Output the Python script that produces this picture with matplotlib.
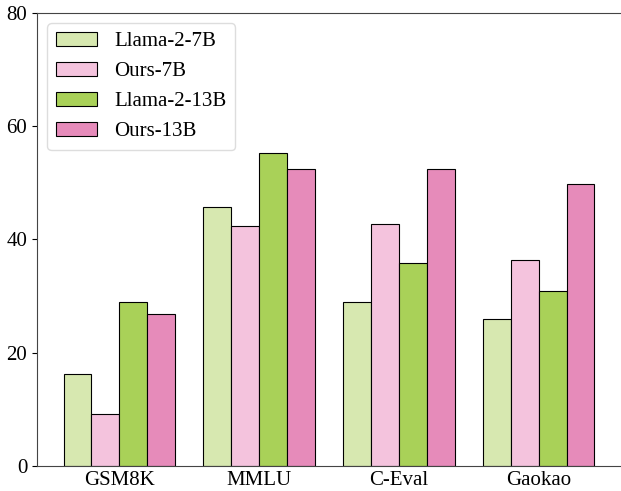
import numpy as np
import matplotlib
matplotlib.use('Agg')
import matplotlib.pyplot as plt

plt.rcParams['font.family'] = ['Liberation Serif', 'DejaVu Serif']

# data
benchmarks = ['GSM8K', 'MMLU', 'C-Eval', 'Gaokao']
models = ['Llama-2-7B', 'Ours-7B', 'Llama-2-13B', 'Ours-13B']
llama_7b = [16.2, 45.8, 28.9, 26.0]
ours_7b = [9.1, 42.4, 42.8, 36.3]
llama_13b = [28.9, 55.2, 35.9, 30.9]
ours_13b = [26.8, 52.5, 52.5, 49.8]
colors = ['#d7e8b0', '#f4c3dd', '#a9d158', '#e68bba']

fig = plt.figure(figsize=(6.21, 4.91), dpi=100)
ax = fig.add_axes([37/621, 25/491, 1 - 37/621, 453/491])

x = np.arange(len(benchmarks))
w = 0.2
series = [llama_7b, ours_7b, llama_13b, ours_13b]
for i, (vals, name) in enumerate(zip(series, models)):
    ax.bar(x + (i - 1.5)*w, vals, w, color=colors[i], edgecolor='black',
           linewidth=0.8, label=name)

ax.set_xlim(-0.59, 3.59)
ax.set_ylim(0, 80)
ax.set_yticks([0, 20, 40, 60, 80])
ax.set_xticks(x)
ax.set_xticklabels(benchmarks)
ax.tick_params(axis='both', labelsize=15)
ax.tick_params(axis='x', length=0)
ax.spines['right'].set_visible(False)
for s in ['left', 'top', 'bottom']:
    ax.spines[s].set_color('#444444')

ax.legend(loc='upper left', fontsize=15, handlelength=2.0, fancybox=True,
          framealpha=1, edgecolor='#dddddd')

plt.savefig('out.png', dpi=100)
